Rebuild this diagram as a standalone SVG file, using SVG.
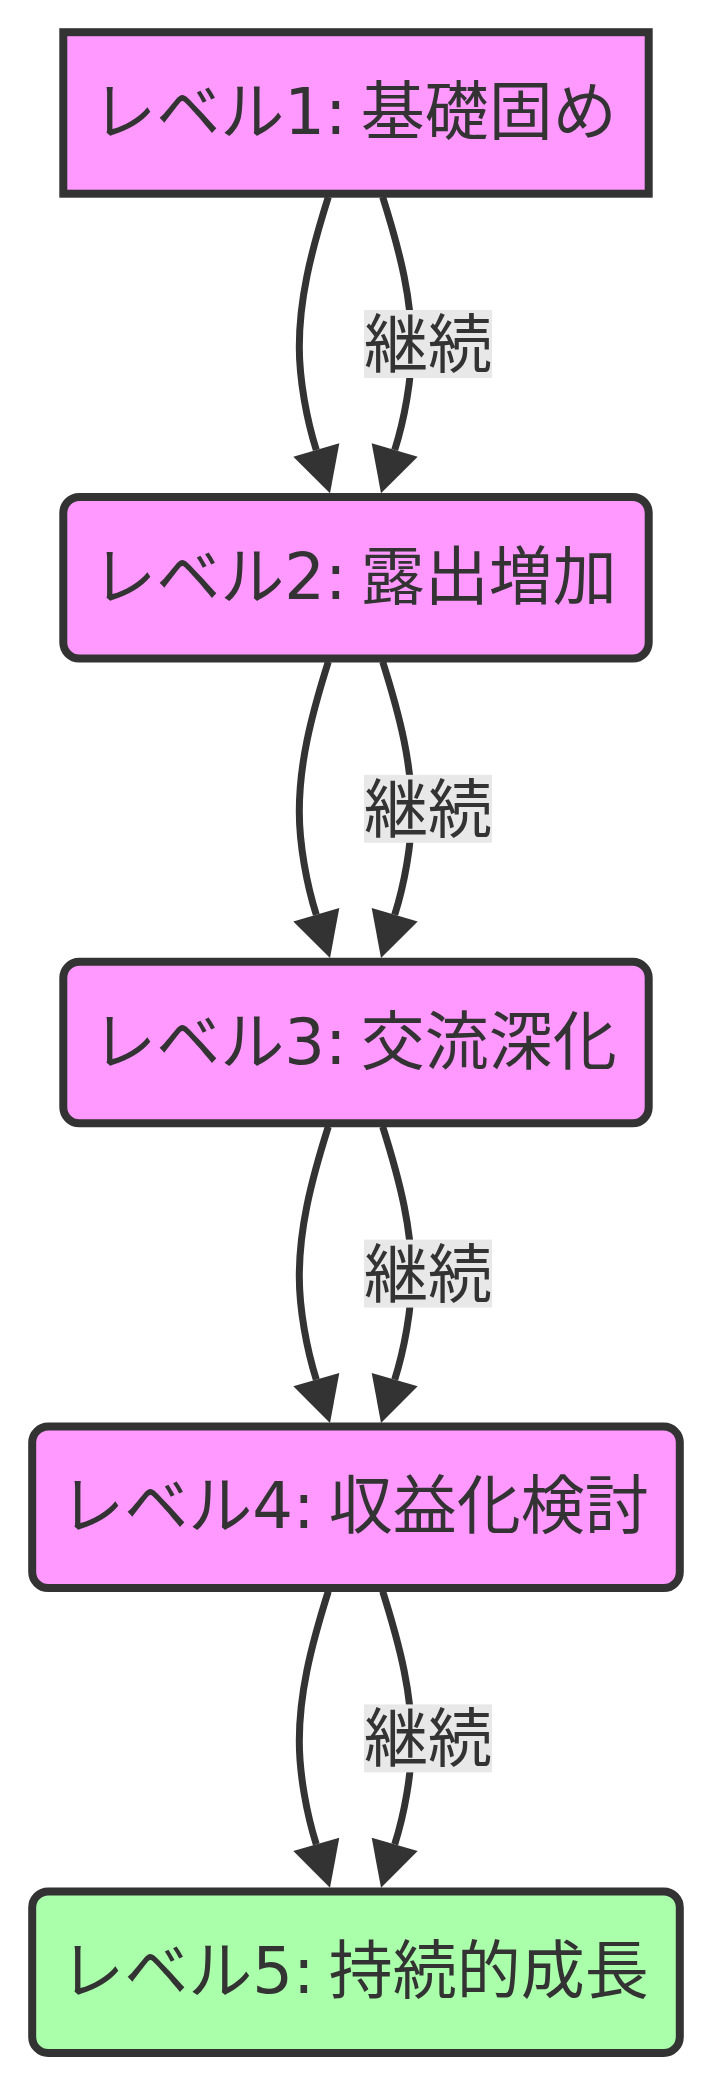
<svg xmlns="http://www.w3.org/2000/svg" width="712" height="2084" viewBox="0 0 712 2084">
<style>
.node rect{stroke:#333;stroke-width:8}
.pink{fill:#ff99ff}
.green{fill:#aaffaa}
.lbl{font-family:"DejaVu Sans","Noto Sans CJK JP",sans-serif;font-size:64px;fill:#333;text-anchor:middle}
.node text{word-spacing:-6px}
.edge{fill:none;stroke:#333;stroke-width:7}
.head{fill:#333}
.elbg{fill:#e8e8e8}
</style>
<defs>
<g id="pair">
<path class="edge" d="M328.3,197 C310,255 299.3,300 299.3,346.7 C299.3,380 306.8,420 316.3,450"/>
<polygon class="head" points="293.3,456.7 339.3,443.3 330,493.3"/>
<path class="edge" d="M382.7,197 C401,255 411.7,300 411.7,346.7 C411.7,380 404.2,420 394.7,450"/>
<polygon class="head" points="417.7,456.7 371.7,443.3 381,493.3"/>
<rect class="elbg" x="364" y="310" width="128" height="68"/>
<text class="lbl" x="428" y="367">継続</text>
</g>
</defs>
<g id="connectors">
<use href="#pair"/>
<use href="#pair" y="464.8"/>
<use href="#pair" y="929.6"/>
<use href="#pair" y="1394.4"/>
</g>
<g id="n1" class="node">
<rect class="pink" x="63.3" y="32.2" width="585.4" height="161.5"/>
<text class="lbl" x="354.5" y="134">レベル1: 基礎固め</text>
</g>
<g id="n2" class="node">
<rect class="pink" x="63.3" y="497" width="585.4" height="161.5" rx="16"/>
<text class="lbl" x="354.5" y="598.8">レベル2: 露出増加</text>
</g>
<g id="n3" class="node">
<rect class="pink" x="63.3" y="961.8" width="585.4" height="161.5" rx="16"/>
<text class="lbl" x="354.5" y="1063.6">レベル3: 交流深化</text>
</g>
<g id="n4" class="node">
<rect class="pink" x="32.2" y="1426.6" width="647.6" height="161.5" rx="16"/>
<text class="lbl" x="354.5" y="1528.4">レベル4: 収益化検討</text>
</g>
<g id="n5" class="node">
<rect class="green" x="32.2" y="1891.4" width="647.6" height="161.5" rx="16"/>
<text class="lbl" x="354.5" y="1993.2">レベル5: 持続的成長</text>
</g>
</svg>
